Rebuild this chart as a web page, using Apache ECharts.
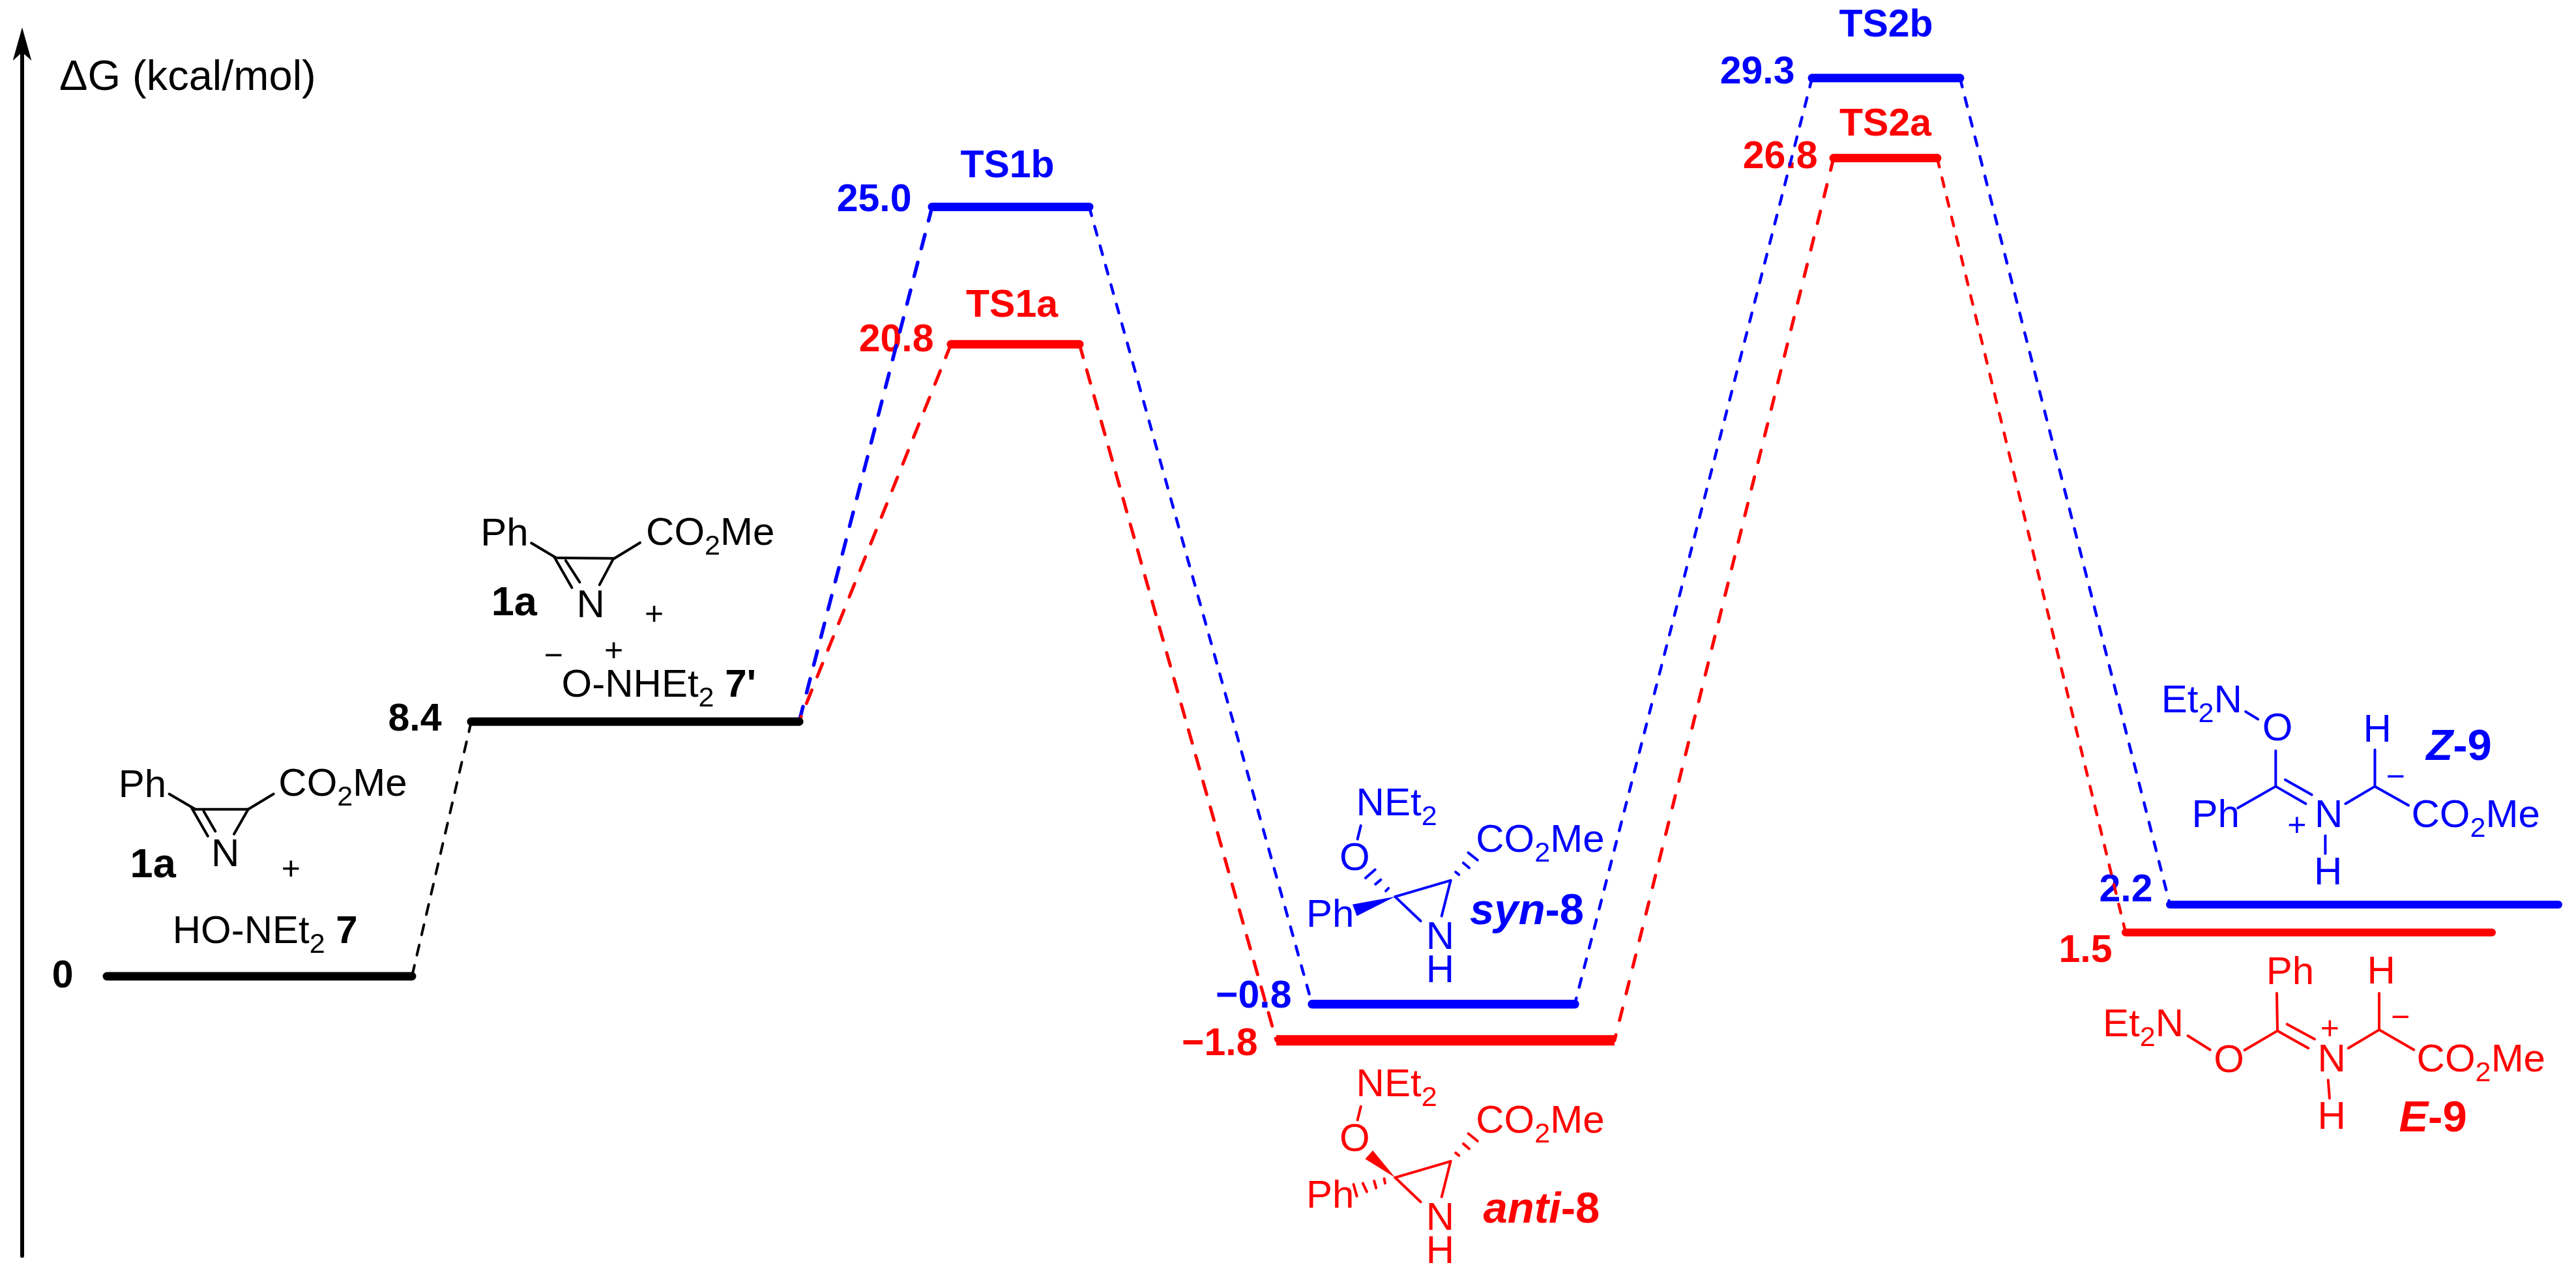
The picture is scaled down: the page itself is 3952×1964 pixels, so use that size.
<!DOCTYPE html>
<html>
<head>
<meta charset="utf-8">
<style>html,body{margin:0;padding:0;background:#fff}#chart{width:3952px;height:1964px}</style>
<script src="https://cdn.jsdelivr.net/npm/echarts@6/dist/echarts.min.js"></script>
</head>
<body>
<div id="chart"></div>
<script>
// ---------- DATA ----------
var levelNames    = ['0', '1a+7\'', 'TS1b', 'TS1a', 'syn-8', 'anti-8', 'TS2b', 'TS2a', 'Z-9', 'E-9'];
var printedValues = ['0', '8.4', '25.0', '20.8', '\u22120.8', '\u22121.8', '29.3', '26.8', '2.2', '1.5'];
// height of each bar (kcal/mol)
var levelHeights  = [0, 8.31, 25.1, 20.62, -0.91, -2.09, 29.3, 26.69, 2.34, 1.43];
// reaction coordinate of bar ends
var levelStart    = [164, 723, 1430, 1459, 2013, 1958, 2780, 2813, 3329, 3261];
var levelEnd      = [632, 1226, 1671, 1656, 2416, 2477, 3007, 2972, 3925, 3823];
// connections between levels
var connectionFrom = [1, 2, 2, 3, 3, 6, 6, 7, 7];
var connectionTo   = [0, 1, 4, 1, 5, 4, 8, 5, 9];
var connectionKind = ['black', 'blue', 'blue', 'red', 'red', 'blue', 'blue', 'red', 'red'];
var tsNames = ['TS1b', 'TS1a', 'TS2b', 'TS2a'];

// ---------- STYLE ----------
var COL = {black: '#000000', blue: '#0000ff', red: '#ff0000'};
var levelColor = ['black', 'black', 'blue', 'red', 'blue', 'red', 'blue', 'red', 'blue', 'red'];
var levelWidth = [13, 13, 13, 13, 13.5, 16, 13, 13, 12, 12];
var labelGap = [51, 45, 31, 26, 31, 28, 26, 24, 26, 20];
var labelDy  = [1, -2, -10, -5, -11, 6.5, -8, -1, -21, 29];
var nameDy   = {TS1b: -62, TS1a: -58, TS2b: -80, TS2a: -51};
var dashes = [[16, 16], [22, 22], [14, 17], [22, 22], [21, 20], [14, 17], [14, 17], [19, 23], [14, 17]];
var dashWidth = [4, 5.5, 4.5, 5, 5, 4.5, 4.5, 5, 4.5];
var FONT = '"Liberation Sans", Arial, sans-serif';
var FAMILY = 'Liberation Sans';
var S = 60;

var series = [];
connectionFrom.forEach(function (f, i) {
  var t = connectionTo[i];
  var goesRight = levelStart[t] > levelStart[f];
  var x1 = goesRight ? levelEnd[f] : levelStart[f];
  var x2 = goesRight ? levelStart[t] : levelEnd[t];
  series.push({
    type: 'line', silent: true, symbol: 'none', animation: false, z: 2,
    data: [[x1, levelHeights[f]], [x2, levelHeights[t]]],
    lineStyle: {color: COL[connectionKind[i]], width: dashWidth[i], type: dashes[i], cap: 'round'}
  });
});
levelNames.forEach(function (n, i) {
  series.push({
    type: 'line', name: n, silent: true, symbol: 'none', animation: false, z: 3,
    data: [[levelStart[i], levelHeights[i]], [levelEnd[i], levelHeights[i]]],
    lineStyle: {color: COL[levelColor[i]], width: levelWidth[i], cap: i === 5 ? 'butt' : 'round'}
  });
});
var valueLabels = levelNames.map(function (n, i) {
  return {
    value: [levelStart[i], levelHeights[i]],
    label: {show: true, position: 'left', distance: labelGap[i], offset: [0, labelDy[i]],
      formatter: printedValues[i], color: COL[levelColor[i]], fontSize: 59, fontWeight: 'bold', fontFamily: FAMILY}
  };
});
var nameLabels = tsNames.map(function (n) {
  var i = levelNames.indexOf(n);
  return {
    value: [(levelStart[i] + levelEnd[i]) / 2, levelHeights[i]],
    label: {show: true, position: 'inside', offset: [n.indexOf('TS1') === 0 ? -5 : 0, nameDy[n]],
      formatter: n, color: COL[levelColor[i]], fontSize: 59, fontWeight: 'bold', fontFamily: FAMILY}
  };
});
series.push({type: 'scatter', silent: true, animation: false, symbolSize: 1, z: 1, itemStyle: {color: 'rgba(0,0,0,0)', opacity: 1}, data: valueLabels.concat(nameLabels)});

// ---------- STRUCTURE ANNOTATIONS ----------
var els = [];
var mctx = document.createElement('canvas').getContext('2d');
function fontOf(size, bold, italic) { return (italic ? 'italic ' : '') + (bold ? 'bold ' : '') + size + 'px ' + FONT; }
// parts: strings, or {t, sub, b, i, gap}; x/base = left edge, baseline
function run(x, base, parts, color, size) {
  size = size || S;
  parts.forEach(function (p) {
    if (typeof p === 'string') p = {t: p};
    var sz = p.sub ? size * 0.72 : size;
    var y = (p.sub ? base + size * 0.23 : base) - 0.3465 * sz;
    els.push({type: 'text', silent: true, x: x, y: y, z: 5, style: {
      text: p.t, fill: color, align: 'left', verticalAlign: 'middle',
      fontSize: sz, fontFamily: FAMILY, fontWeight: p.b ? 'bold' : 'normal', fontStyle: p.i ? 'italic' : 'normal'
    }});
    mctx.font = fontOf(sz, p.b, p.i);
    x += mctx.measureText(p.t).width + (p.gap || 0);
  });
}
function sign(x, y, ch, color) {
  els.push({type: 'text', silent: true, x: x, y: y, z: 5, style: {
    text: ch, fill: color, align: 'center', verticalAlign: 'middle', fontSize: 50, fontFamily: FAMILY
  }});
}
function bond(a, b, color, w) {
  els.push({type: 'polyline', silent: true, z: 5, shape: {points: [a, b]}, style: {stroke: color, lineWidth: w || 4, lineCap: 'round', fill: null}});
}
function wedge(pts, color) {
  els.push({type: 'polygon', silent: true, z: 5, shape: {points: pts}, style: {fill: color}});
}
function mapper(ox, oy, fx, fy) { return function (x, y) { return [ox + x / fx, oy + y / fy]; }; }
var SUB2 = {t: '2', sub: true};

// axis title
run(91, 143, ['\u0394G (kcal/mol)'], '#000', 65);

// upper 1a
(function () {
  var m = mapper(650, 750, 2.41, 3), c = '#000';
  function B(a, b, d, e) { bond(m(a, b), m(d, e), c); }
  function R(x, y, p, s) { var q = m(x, y); run(q[0], q[1], p, c, s); }
  R(210, 275, ['Ph']); R(822, 270, ['CO', SUB2, 'Me']); R(565, 603, ['N']);
  R(250, 595, [{t: '1a', b: true}], 63);
  R(510, 970, ['O-NHEt', SUB2, {t: ' 7\'', b: true}]);
  B(398, 250, 490, 318); B(490, 318, 705, 320); B(482, 312, 548, 455); B(525, 330, 577, 430);
  B(700, 325, 650, 442); B(705, 320, 800, 248);
  var p1 = m(852, 582), p2 = m(703, 750), p3 = m(480, 775);
  sign(p1[0], p1[1], '+', c); sign(p2[0], p2[1], '+', c); sign(p3[0], p3[1], '\u2212', c);
})();

// lower 1a
(function () {
  var m = mapper(0, 1000, 1.568, 1.626), c = '#000';
  function B(a, b, d, e) { bond(m(a, b), m(d, e), c); }
  function R(x, y, p, s) { var q = m(x, y); run(q[0], q[1], p, c, s); }
  R(285, 370, ['Ph']); R(670, 367, ['CO', SUB2, 'Me']); R(508, 542, ['N']);
  R(313, 570, [{t: '1a', b: true}], 63);
  R(415, 733, ['HO-NEt', SUB2, {t: ' 7', b: true}]);
  B(407, 355, 470, 393); B(470, 393, 597, 393); B(460, 388, 500, 460); B(490, 398, 518, 448);
  B(597, 393, 563, 455); B(597, 393, 658, 355);
  var p = m(700, 545); sign(p[0], p[1], '+', c);
})();

// syn-8 and anti-8
(function () {
  var m = mapper(1750, 1150, 1.96, 1.926);
  function draw(c, dy, anti) {
    function B(a, b, d, e) { bond(m(a, b + dy), m(d, e + dy), c); }
    function R(x, y, p) { var q = m(x, y + dy); run(q[0], q[1], p, c); }
    R(648, 203, ['NEt', SUB2]); R(598, 365, ['O']); R(1008, 310, ['CO', SUB2, 'Me']);
    R(498, 533, ['Ph']); R(858, 598, ['N']); R(858, 695, ['H']);
    B(662, 225, 652, 265); B(765, 435, 932, 387); B(932, 387, 905, 492); B(765, 435, 842, 507);
    B(947, 362, 957, 370); B(970, 335, 988, 350); B(985, 305, 1013, 327);
    if (!anti) {
      wedge([m(765, 435), m(637, 458), m(650, 492)], c);
      B(737, 418, 745, 410); B(706, 398, 722, 385); B(676, 380, 705, 355);
    } else {
      wedge([m(765, 435 + dy), m(675, 380 + dy), m(698, 355 + dy)], c);
      B(732, 438, 735, 452); B(702, 445, 708, 466); B(668, 452, 680, 477); B(640, 455, 650, 490);
    }
  }
  draw('#0000ff', 0, false);
  draw('#ff0000', 830, true);
  var a = m(990, 525);
  run(a[0], a[1], [{t: 'syn', b: 1, i: 1}, {t: '-8', b: 1}], '#0000ff', 67);
  var b = m(1030, 1407);
  run(b[0], b[1], [{t: 'anti', b: 1, i: 1}, {t: '-8', b: 1}], '#ff0000', 67);
})();

// Z-9 and E-9
(function () {
  var m = mapper(3100, 1000, 1.84, 1.96);
  function kit(c) {
    return {
      B: function (a, b, d, e) { bond(m(a, b), m(d, e), c); },
      R: function (x, y, p, s) { var q = m(x, y); run(q[0], q[1], p, c, s); },
      G: function (x, y, ch) { var q = m(x, y); sign(q[0], q[1], ch, c); }
    };
  }
  var z = kit('#0000ff');
  z.R(397, 190, ['Et', SUB2, 'N']); z.R(682, 275, ['O']); z.R(483, 535, ['Ph']); z.R(830, 535, ['N']);
  z.R(828, 708, ['H']); z.R(967, 278, ['H']); z.R(1103, 535, ['CO', SUB2, 'Me']);
  z.R(1145, 335, [{t: 'Z', b: 1, i: 1}, {t: '-9', b: 1}], 67);
  z.B(635, 180, 670, 203); z.B(720, 298, 720, 405); z.B(720, 405, 613, 470); z.B(720, 405, 805, 457);
  z.B(747, 385, 822, 430); z.B(860, 553, 860, 607); z.B(917, 457, 1000, 405); z.B(1000, 295, 1000, 405);
  z.B(1000, 405, 1095, 462);
  z.G(780, 525, '+'); z.G(1058, 381, '\u2212');

  var e = kit('#ff0000');
  e.R(232, 1165, ['Et', SUB2, 'N']); e.R(545, 1273, ['O']); e.R(693, 1007, ['Ph']); e.R(838, 1270, ['N']);
  e.R(838, 1443, ['H']); e.R(978, 1005, ['H']); e.R(1118, 1270, ['CO', SUB2, 'Me']);
  e.R(1068, 1452, [{t: 'E', b: 1, i: 1}, {t: '-9', b: 1}], 67);
  e.B(472, 1155, 535, 1197); e.B(632, 1198, 725, 1140); e.B(725, 1140, 723, 1027); e.B(725, 1140, 812, 1192);
  e.B(752, 1120, 830, 1165); e.B(868, 1288, 872, 1343); e.B(925, 1192, 1012, 1137); e.B(1012, 1137, 1012, 1027);
  e.B(1012, 1137, 1110, 1197);
  e.G(873, 1138, '+'); e.G(1072, 1103, '\u2212');
})();

var chart = echarts.init(document.getElementById('chart'), null, {renderer: 'canvas'});
chart.setOption({
  animation: false,
  backgroundColor: '#ffffff',
  grid: {left: 34, right: 0, top: 70, bottom: 37, containLabel: false},
  xAxis: {type: 'value', min: 34, max: 3952, show: false},
  yAxis: {
    type: 'value', min: -9.12, max: 30.36, position: 'left',
    axisLine: {show: true, onZero: false, symbol: ['none', 'arrow'], symbolSize: [21.5, 51], symbolOffset: [0, 28],
      lineStyle: {color: '#000', width: 6}},
    axisTick: {show: false}, axisLabel: {show: false}, splitLine: {show: false}
  },
  series: series,
  graphic: els
});
</script>
</body>
</html>
